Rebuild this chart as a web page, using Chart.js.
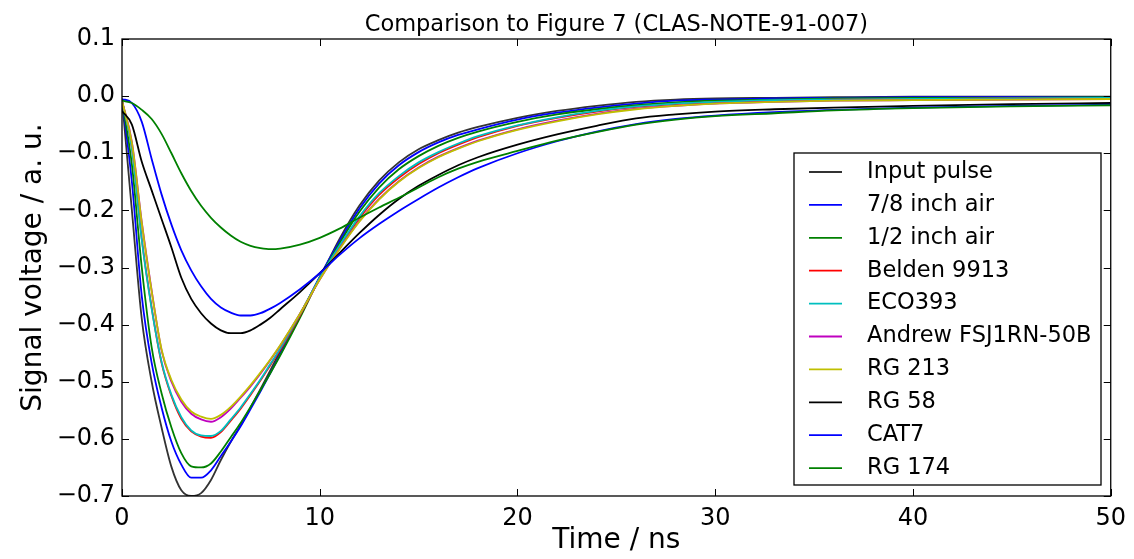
<!DOCTYPE html>
<html lang="en">
<head>
  <meta charset="UTF-8">
  <title>Comparison to Figure 7</title>
  <script src="https://cdn.jsdelivr.net/npm/chart.js"></script>
  <style>
    body {
      margin: 0;
      padding: 0;
      background-color: #fff;
    }
    canvas {
      display: block;
    }
  </style>
</head>
<body>

  <canvas id="pulseChart" width="1134" height="559"></canvas>

  <script>
    // time axis (ns)
    var times = [0, 0.5, 1, 1.5, 2, 2.5, 3, 3.5, 4, 4.5, 5, 5.5, 6, 6.5, 7, 7.5, 8, 9, 10, 11, 12, 13, 14, 15, 16, 17, 18, 20, 22, 24, 26, 28, 30, 33, 36, 40, 45, 50];

    // signal voltage per cable (a. u.)
    var inputPulse = [-0.005, -0.20, -0.39, -0.50, -0.58, -0.649, -0.69, -0.70, -0.695, -0.672, -0.637, -0.605, -0.576, -0.545, -0.513, -0.48, -0.447, -0.382, -0.318, -0.25, -0.192, -0.148, -0.116, -0.093, -0.077, -0.064, -0.054, -0.038, -0.026, -0.017, -0.010, -0.006, -0.004, -0.003, -0.002, -0.001, -0.001, -0.001];
    var air78 = [-0.005, -0.15, -0.35, -0.467, -0.545, -0.605, -0.645, -0.668, -0.668, -0.655, -0.63, -0.605, -0.578, -0.548, -0.517, -0.485, -0.452, -0.385, -0.316, -0.254, -0.197, -0.153, -0.121, -0.098, -0.081, -0.068, -0.058, -0.041, -0.029, -0.02, -0.013, -0.008, -0.006, -0.004, -0.003, -0.002, -0.002, -0.002];
    var air12 = [-0.008, -0.12, -0.30, -0.44, -0.52, -0.58, -0.625, -0.648, -0.65, -0.643, -0.622, -0.597, -0.572, -0.544, -0.515, -0.485, -0.454, -0.388, -0.318, -0.258, -0.203, -0.16, -0.128, -0.105, -0.087, -0.073, -0.062, -0.045, -0.032, -0.023, -0.016, -0.011, -0.008, -0.006, -0.004, -0.003, -0.003, -0.002];
    var belden9913 = [-0.008, -0.09, -0.25, -0.37, -0.467, -0.525, -0.565, -0.587, -0.596, -0.598, -0.588, -0.568, -0.547, -0.523, -0.498, -0.471, -0.444, -0.384, -0.320, -0.264, -0.214, -0.173, -0.143, -0.119, -0.1, -0.085, -0.072, -0.052, -0.038, -0.027, -0.019, -0.014, -0.011, -0.008, -0.006, -0.005, -0.004, -0.004];
    var eco393 = [-0.008, -0.092, -0.252, -0.372, -0.465, -0.523, -0.562, -0.585, -0.594, -0.595, -0.586, -0.566, -0.545, -0.521, -0.496, -0.469, -0.442, -0.382, -0.318, -0.262, -0.211, -0.17, -0.14, -0.116, -0.098, -0.083, -0.07, -0.051, -0.037, -0.026, -0.018, -0.013, -0.010, -0.007, -0.006, -0.005, -0.004, -0.003];
    var andrewFsj = [-0.008, -0.08, -0.22, -0.34, -0.445, -0.50, -0.535, -0.556, -0.566, -0.570, -0.562, -0.547, -0.528, -0.508, -0.486, -0.462, -0.437, -0.381, -0.321, -0.267, -0.219, -0.18, -0.149, -0.125, -0.106, -0.091, -0.078, -0.058, -0.043, -0.031, -0.022, -0.017, -0.013, -0.010, -0.008, -0.007, -0.006, -0.005];
    var rg213 = [-0.008, -0.082, -0.222, -0.342, -0.443, -0.497, -0.531, -0.552, -0.561, -0.565, -0.558, -0.544, -0.526, -0.506, -0.484, -0.461, -0.436, -0.381, -0.321, -0.268, -0.22, -0.181, -0.15, -0.126, -0.107, -0.092, -0.079, -0.059, -0.044, -0.032, -0.023, -0.017, -0.013, -0.010, -0.008, -0.007, -0.006, -0.005];
    var rg58 = [-0.026, -0.05, -0.115, -0.165, -0.215, -0.265, -0.318, -0.355, -0.38, -0.398, -0.41, -0.415, -0.415, -0.41, -0.40, -0.388, -0.373, -0.343, -0.31, -0.275, -0.24, -0.208, -0.18, -0.157, -0.138, -0.121, -0.107, -0.085, -0.067, -0.052, -0.039, -0.032, -0.027, -0.023, -0.02, -0.017, -0.014, -0.012];
    var cat7 = [-0.005, -0.012, -0.045, -0.11, -0.172, -0.225, -0.27, -0.305, -0.333, -0.355, -0.37, -0.379, -0.384, -0.384, -0.38, -0.372, -0.362, -0.338, -0.31, -0.278, -0.249, -0.224, -0.201, -0.18, -0.16, -0.142, -0.126, -0.1, -0.079, -0.062, -0.049, -0.04, -0.034, -0.028, -0.024, -0.02, -0.017, -0.015];
    var rg174 = [-0.008, -0.012, -0.024, -0.04, -0.066, -0.1, -0.135, -0.166, -0.192, -0.213, -0.23, -0.244, -0.255, -0.262, -0.266, -0.268, -0.267, -0.26, -0.248, -0.232, -0.213, -0.195, -0.178, -0.16, -0.142, -0.127, -0.115, -0.096, -0.078, -0.063, -0.05, -0.041, -0.035, -0.03, -0.025, -0.021, -0.018, -0.016];

    var seriesLabels = ['Input pulse', '7/8 inch air', '1/2 inch air', 'Belden 9913', 'ECO393', 'Andrew FSJ1RN-50B', 'RG 213', 'RG 58', 'CAT7', 'RG 174'];
    var seriesValues = [inputPulse, air78, air12, belden9913, eco393, andrewFsj, rg213, rg58, cat7, rg174];
    var seriesColors = ['#333333', '#0000ff', '#008000', '#ff0000', '#00bfbf', '#bf00bf', '#bfbf00', '#000000', '#0000ff', '#008000'];

    var xTicks = [0, 10, 20, 30, 40, 50];
    var yTicks = [0.1, 0.0, -0.1, -0.2, -0.3, -0.4, -0.5, -0.6, -0.7];

    var FONT = "'DejaVu Sans', sans-serif";

    function toPoints(values) {
      return values.map(function (v, i) { return { x: times[i], y: v }; });
    }

    var datasets = seriesLabels.map(function (label, i) {
      return {
        label: label,
        data: toPoints(seriesValues[i]),
        borderColor: seriesColors[i],
        borderWidth: 1.8,
        pointRadius: 0,
        fill: false,
        cubicInterpolationMode: 'monotone',
        order: seriesLabels.length - i   // later series drawn on top
      };
    });

    // frame, inward ticks, title, axis labels and legend box
    var decorations = {
      id: 'decorations',
      afterDatasetsDraw: function (chart) {
        var ctx = chart.ctx;
        var a = chart.chartArea;
        var xs = chart.scales.x, ys = chart.scales.y;
        var tick = 7;

        ctx.save();
        ctx.strokeStyle = '#000';
        ctx.lineWidth = 1;
        ctx.beginPath();
        xTicks.forEach(function (t) {
          var px = Math.round(xs.getPixelForValue(t)) + 0.5;
          ctx.moveTo(px, a.bottom); ctx.lineTo(px, a.bottom - tick);
          ctx.moveTo(px, a.top); ctx.lineTo(px, a.top + tick);
        });
        yTicks.forEach(function (t) {
          var py = Math.round(ys.getPixelForValue(t)) + 0.5;
          ctx.moveTo(a.left, py); ctx.lineTo(a.left + tick, py);
          ctx.moveTo(a.right, py); ctx.lineTo(a.right - tick, py);
        });
        ctx.stroke();

        ctx.lineWidth = 1.3;
        ctx.strokeRect(a.left, a.top, a.right - a.left, a.bottom - a.top);

        // title
        ctx.fillStyle = '#000';
        ctx.font = '22.5px ' + FONT;
        ctx.textAlign = 'center';
        ctx.textBaseline = 'alphabetic';
        ctx.fillText('Comparison to Figure 7 (CLAS-NOTE-91-007)', (a.left + a.right) / 2, 31);

        // axis titles
        ctx.font = '28px ' + FONT;
        ctx.textBaseline = 'middle';
        ctx.fillText('Time / ns', (a.left + a.right) / 2, 541);
        ctx.save();
        ctx.translate(34, (a.top + a.bottom) / 2);
        ctx.rotate(-Math.PI / 2);
        ctx.fillText('Signal voltage / a. u.', 0, 0);
        ctx.restore();

        // legend
        var bx = 794, by = 153, bw = 307, bh = 332;
        ctx.fillStyle = '#fff';
        ctx.fillRect(bx, by, bw, bh);
        ctx.lineWidth = 1.3;
        ctx.strokeStyle = '#000';
        ctx.strokeRect(bx, by, bw, bh);
        ctx.font = '22.5px ' + FONT;
        ctx.textAlign = 'left';
        ctx.textBaseline = 'middle';
        chart.data.datasets.forEach(function (ds, i) {
          var cy = 172 + i * 32.9;
          ctx.strokeStyle = ds.borderColor;
          ctx.lineWidth = 1.8;
          ctx.beginPath();
          ctx.moveTo(809, cy);
          ctx.lineTo(842, cy);
          ctx.stroke();
          ctx.fillStyle = '#000';
          ctx.fillText(ds.label, 867, cy);
        });
        ctx.restore();
      }
    };

    var ctx = document.getElementById('pulseChart').getContext('2d');

    var pulseChart = new Chart(ctx, {
      type: 'line',
      data: { datasets: datasets },
      options: {
        responsive: false,
        animation: false,
        devicePixelRatio: 1,
        layout: { padding: { top: 39, right: 22, left: 0, bottom: 0 } },
        plugins: {
          legend: { display: false },
          title: { display: false },
          tooltip: { enabled: false }
        },
        scales: {
          x: {
            type: 'linear',
            min: 0,
            max: 50,
            grid: { display: false, drawTicks: false },
            border: { display: false },
            afterFit: function (s) { s.height = 63; },
            afterBuildTicks: function (s) { s.ticks = xTicks.map(function (v) { return { value: v }; }); },
            ticks: {
              color: '#000',
              padding: 8,
              maxRotation: 0,
              font: { family: FONT, size: 24 },
              callback: function (v) { return String(v); }
            }
          },
          y: {
            min: -0.7,
            max: 0.1,
            grid: { display: false, drawTicks: false },
            border: { display: false },
            afterFit: function (s) { s.width = 122; },
            afterBuildTicks: function (s) { s.ticks = yTicks.map(function (v) { return { value: v }; }); },
            ticks: {
              color: '#000',
              padding: 7,
              font: { family: FONT, size: 24 },
              callback: function (v) { return v.toFixed(1).replace('-', '\u2212').replace('\u22120.0', '0.0'); }
            }
          }
        }
      },
      plugins: [decorations]
    });
  </script>

</body>
</html>
